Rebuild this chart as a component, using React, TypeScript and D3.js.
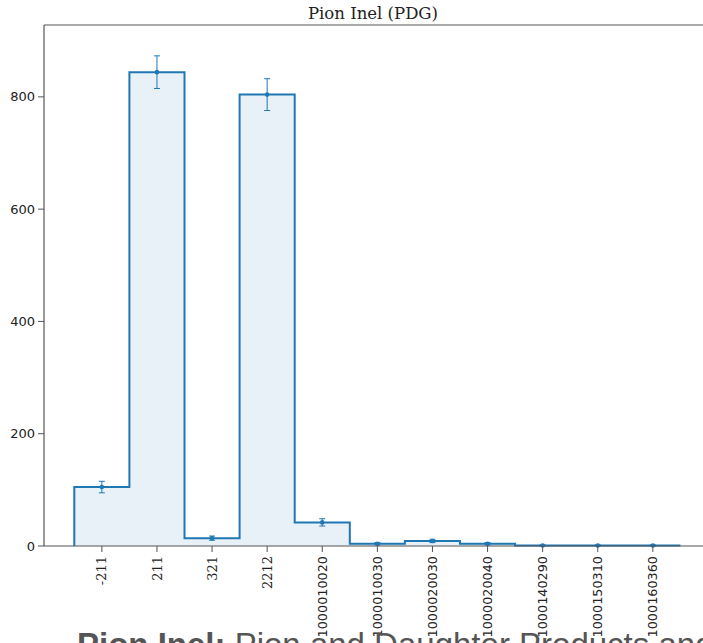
import React from "react";
import * as d3 from "d3";

const categories = ["-211", "211", "321", "2212", "1000010020", "1000010030", "1000020030", "1000020040", "1000140290", "1000150310", "1000160360"];
const counts = [105, 844, 14, 804, 42, 4, 9, 4, 1, 1, 1];
const yTicks = [0, 200, 400, 600, 800];
const title = "Pion Inel (PDG)";
const captionBold = "Pion Inel:";
const captionRest = " Pion and Daughter Products and";

const W = 703, H = 643;
const left = 44, top = 25, bottom = 546;
const blue = "#1f77b4";

export default function App() {
  const n = categories.length;
  const x = d3.scaleLinear().domain([-1.05, n - 1 + 1.05]).range([left, left + 12.1 * 55.1]);
  const y = d3.scaleLinear().domain([0, 928]).range([bottom, top]);

  const pts: [number, number][] = [];
  pts.push([x(-0.5), y(0)]);
  counts.forEach((c, i) => {
    pts.push([x(i - 0.5), y(c)]);
    pts.push([x(i + 0.5), y(c)]);
  });
  pts.push([x(n - 0.5), y(0)]);
  const line = d3.line();
  const stepPath = line(pts.slice(0, pts.length - 1)) || "";
  const fillPath = (line(pts) || "") + "Z";

  return (
    <svg width={W} height={H} style={{ position: "absolute", left: 0, top: 0, background: "#fff" }}>
      <text x={373} y={19} textAnchor="middle" fontFamily="DejaVu Serif" fontSize={16.5} fill="#222">{title}</text>
      <path d={fillPath} fill={blue} fillOpacity={0.1} stroke="none" />
      <path d={stepPath} fill="none" stroke={blue} strokeWidth={2} />
      {counts.map((c, i) => {
        const e = Math.sqrt(c);
        const cx = x(i);
        return (
          <g key={i} stroke={blue} strokeWidth={1}>
            <line x1={cx} x2={cx} y1={y(c - e)} y2={y(c + e)} />
            <line x1={cx - 3} x2={cx + 3} y1={y(c - e)} y2={y(c - e)} />
            <line x1={cx - 3} x2={cx + 3} y1={y(c + e)} y2={y(c + e)} />
            <circle cx={cx} cy={y(c)} r={2.3} fill={blue} stroke="none" />
          </g>
        );
      })}
      <line x1={left} x2={left} y1={top} y2={bottom} stroke="#555" strokeWidth={1.2} />
      <line x1={left} x2={W} y1={top} y2={top} stroke="#555" strokeWidth={1.2} />
      <line x1={left} x2={W} y1={bottom} y2={bottom} stroke="#555" strokeWidth={1.2} />
      {yTicks.map((t) => (
        <g key={t}>
          <line x1={left - 6} x2={left} y1={y(t)} y2={y(t)} stroke="#555" />
          <text x={left - 9} y={y(t)} dy="0.35em" textAnchor="end" fontFamily="DejaVu Sans" fontSize={13} fill="#222">{t}</text>
        </g>
      ))}
      {categories.map((c, i) => {
        const cx = x(i);
        const serif = c.length <= 4;
        return (
          <g key={c}>
            <line x1={cx} x2={cx} y1={bottom} y2={bottom + 6} stroke="#555" />
            <text transform={`translate(${cx},${bottom + 10}) rotate(-90)`} dy="0.35em" textAnchor="end"
              fontFamily={serif ? "DejaVu Serif" : "DejaVu Sans"} fontSize={serif ? 13 : 12.8} fill="#222">{c}</text>
          </g>
        );
      })}
      <text x={77} y={656} fontFamily="Liberation Sans" fontSize={33} fill="#555">
        <tspan fontWeight="bold">{captionBold}</tspan>
        <tspan>{captionRest}</tspan>
      </text>
    </svg>
  );
}
